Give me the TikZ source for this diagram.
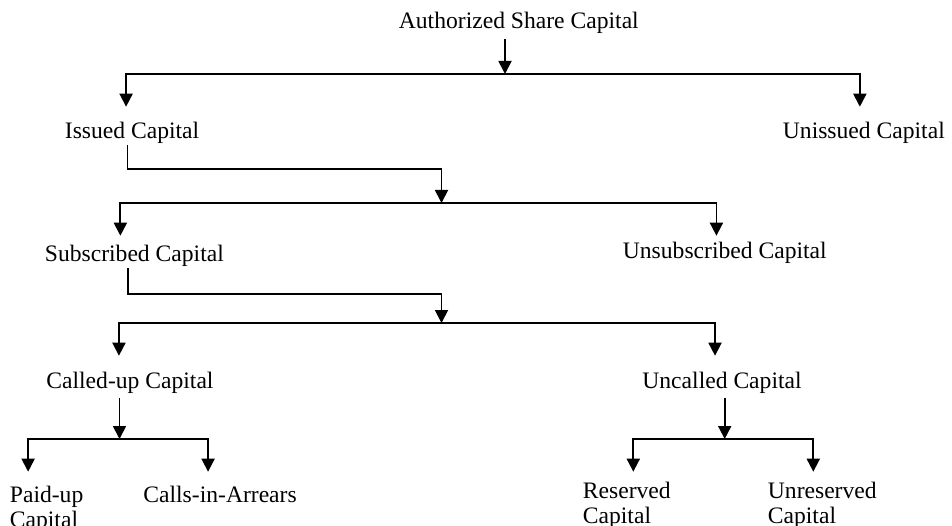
\documentclass[tikz,border=0pt]{standalone}
\usepackage{fontspec}
\setmainfont{Liberation Serif}
\usetikzlibrary{arrows.meta, positioning}
\tikzset{>={Triangle[width=13pt,length=13pt]}}

\begin{document}
\begin{tikzpicture}[x=1pt, y=-1pt, line width=1.8pt,
  lbl/.style={anchor=base west, inner sep=0pt, align=left, font=\fontsize{23.6}{25}\selectfont}]
\useasboundingbox (0,0) rectangle (952,526);

\node[lbl] (auth) at (398,28.5) {Authorized Share Capital};
\node[lbl] (issued) at (64,139) {Issued Capital};
\node[lbl] (unissued) at (782,139) {Unissued Capital};
\node[lbl] (subscribed) at (44,262) {Subscribed Capital};
\node[lbl] (unsubscribed) at (622,259) {Unsubscribed Capital};
\node[lbl] (calledup) at (45.5,388) {Called-up Capital};
\node[lbl] (uncalled) at (641.5,388) {Uncalled Capital};
\node[lbl] (paidup) at (9,527) {Paid-up\\Capital};
\node[lbl] (arrears) at (142.5,502) {Calls-in-Arrears};
\node[lbl] (reserved) at (582,523) {Reserved\\Capital};
\node[lbl] (unreserved) at (767,523) {Unreserved\\Capital};

\coordinate (bar1) at (505,74);
\coordinate (bar2) at (441.5,203);
\coordinate (bar3) at (441.5,323);
\coordinate (bar4a) at (119.5,439);
\coordinate (bar4b) at (724.7,439);

\draw[->] ([yshift=-5pt]auth.south -| bar1) -- (bar1);
\draw[->] (bar1) -| ([xshift=-6pt,yshift=15pt]issued.north);
\draw[->] (bar1) -| ([xshift=-4pt,yshift=15pt]unissued.north);

\draw[->] ([xshift=-4.5pt]issued.south) |- ([yshift=34pt]bar2) -- (bar2);
\draw[->] (bar2) -| ([xshift=-14pt,yshift=9pt]subscribed.north);
\draw[->] (bar2) -| ([xshift=-8.4pt,yshift=6pt]unsubscribed.north);

\draw[->] ([xshift=-6.5pt]subscribed.south) |- ([yshift=29pt]bar3) -- (bar3);
\draw[->] (bar3) -| ([xshift=-11pt,yshift=15pt]calledup.north);
\draw[->] (bar3) -| ([xshift=-7pt,yshift=15pt]uncalled.north);

\draw[->] ([yshift=-4pt]calledup.south -| bar4a) -- (bar4a);
\draw[->] (bar4a) -| ([xshift=-18.5pt,yshift=13pt]paidup.north);
\draw[->] (bar4a) -| ([xshift=-12pt,yshift=13pt]arrears.north);

\draw[->] ([yshift=-4pt]uncalled.south -| bar4b) -- (bar4b);
\draw[->] (bar4b) -| ([xshift=6.5pt,yshift=9pt]reserved.north);
\draw[->] (bar4b) -| ([xshift=-9pt,yshift=9pt]unreserved.north);

\end{tikzpicture}
\end{document}
